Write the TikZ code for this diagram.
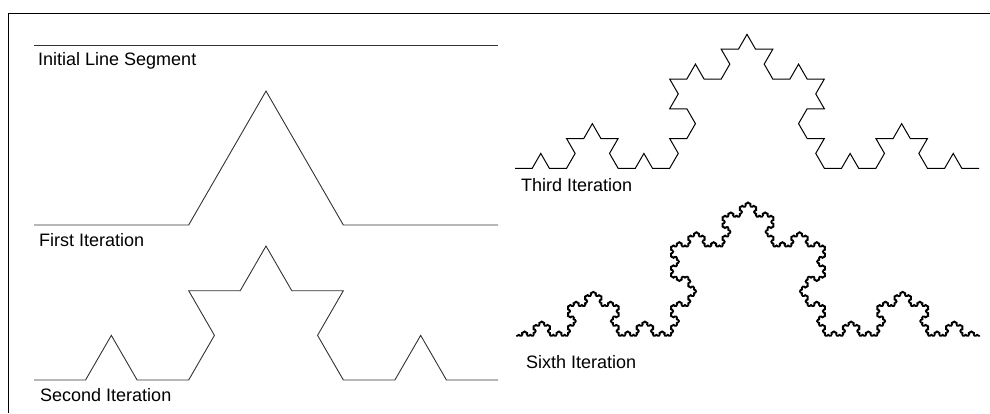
\documentclass[tikz,border=0pt]{standalone}
\usepackage{fontspec}
\setmainfont{Liberation Sans}
\usetikzlibrary{lindenmayersystems}
\pgfdeclarelindenmayersystem{Koch curve}{\rule{F -> F+F--F+F}}
\begin{document}
\begin{tikzpicture}[x=1pt,y=-1pt,
  lbl/.style={anchor=base west,inner sep=0pt,font=\fontsize{18}{21}\selectfont},
  curve/.style={line width=0.9pt,draw=black!80,line join=miter},
  fine/.style={line width=1pt,draw=black,line join=miter},
  dense/.style={line width=1.3pt,draw=black,line join=round}]
\useasboundingbox (0,0) rectangle (990,413);
% frame
\coordinate (fbl) at (8,413);
\coordinate (ftl) at (8,13);
\coordinate (ftr) at (990,13);
\draw[line width=1pt] (fbl) -- (ftl) -- (ftr);
% initial segment
\coordinate (i0) at (34,45);
\coordinate (i1) at (498,45);
\draw[curve] (i0) -- (i1);
\node[lbl] (tinit) at (38,65.5) {Initial Line Segment};
% first iteration
\begin{scope}[shift={(34,225)}]
\draw[curve,lindenmayer system={Koch curve, axiom=F, order=1, step=154.6667pt, angle=60}] lindenmayer system;
\end{scope}
\node[lbl] (tfirst) at (39,246.5) {First Iteration};
% second iteration
\begin{scope}[shift={(34,380)}]
\draw[curve,lindenmayer system={Koch curve, axiom=F, order=2, step=51.5556pt, angle=60}] lindenmayer system;
\end{scope}
\node[lbl] (tsecond) at (40,401) {Second Iteration};
% third iteration
\begin{scope}[shift={(515,168.3)}]
\draw[fine,lindenmayer system={Koch curve, axiom=F, order=3, step=17.1852pt, angle=60}] lindenmayer system;
\end{scope}
\node[lbl] (tthird) at (521,191) {Third Iteration};
% sixth iteration
\begin{scope}[shift={(516,336)}]
\draw[dense,lindenmayer system={Koch curve, axiom=F, order=6, step=0.63649pt, angle=60}] lindenmayer system;
\end{scope}
\node[lbl] (tsixth) at (526,368.5) {Sixth Iteration};
\end{tikzpicture}
\end{document}
